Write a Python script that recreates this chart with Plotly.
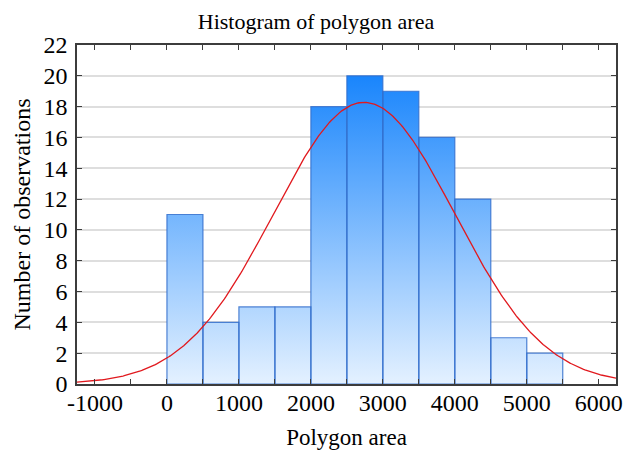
import numpy as np
import plotly.graph_objects as go

# Histogram data (bin edges of width 500)
bin_left = [0, 500, 1000, 1500, 2000, 2500, 3000, 3500, 4000, 4500, 5000]
bin_width = 500
counts = [11, 4, 5, 5, 18, 20, 19, 16, 12, 3, 2]

# Fitted normal curve parameters
fit_mean = 2740
fit_sd = 1255

x_ticks = [-1000, 0, 1000, 2000, 3000, 4000, 5000, 6000]
x_tick_labels = ["-1000", "0", "1000", "2000", "3000", "4000", "5000", "6000"]
y_ticks = list(range(0, 23, 2))

FONT = "Liberation Serif"

# build bar polygons
px, py = [], []
for l, c in zip(bin_left, counts):
    r = l + bin_width
    px += [l, l, r, r, l, None]
    py += [0, c, c, 0, 0, None]

n_total = sum(counts)
xc = np.linspace(-1250, 6240, 400)
yc = n_total * bin_width / (fit_sd * np.sqrt(2 * np.pi)) * np.exp(-0.5 * ((xc - fit_mean) / fit_sd) ** 2)

fig = go.Figure()
fig.add_trace(go.Scatter(
    x=px, y=py, mode="lines", fill="toself",
    line=dict(color="rgba(50,110,205,0.85)", width=1.2),
    fillgradient=dict(type="vertical",
                      colorscale=[[0, "rgb(228,241,255)"], [1, "rgb(25,133,252)"]],
                      start=0, stop=20),
    hoverinfo="skip", showlegend=False,
))
fig.add_trace(go.Scatter(
    x=xc, y=yc, mode="lines",
    line=dict(color="rgb(225,25,30)", width=1.3),
    showlegend=False,
))

W, H = 624, 448  # page body has an 8px default margin
fig.update_layout(
    width=W, height=H,
    margin=dict(l=69, r=16, t=37, b=72),
    paper_bgcolor="white", plot_bgcolor="white",
    font=dict(family=FONT, color="black"),
    title=dict(text="Histogram of polygon area", x=308 / W, xanchor="center",
               y=1 - 13 / H, yanchor="middle", font=dict(size=22, family=FONT)),
)
fig.update_xaxes(
    range=[-1250, 6240], tickvals=x_ticks, ticktext=x_tick_labels, ticks="inside", ticklen=5,
    tickcolor="rgb(60,60,60)", showgrid=False, zeroline=False, automargin=False,
    showline=True, linecolor="rgb(60,60,60)", linewidth=1.5, mirror="ticks",
    minor=dict(dtick=500, tick0=0, ticks="inside", ticklen=5, tickcolor="rgb(60,60,60)", showgrid=False),
    tickfont=dict(size=24, family=FONT), ticklabelstandoff=-4,
    title=dict(text="Polygon area", font=dict(size=23, family=FONT), standoff=14),
)
fig.update_yaxes(
    range=[0, 22], tickvals=y_ticks, ticks="inside", ticklen=5, automargin=False,
    tickcolor="rgb(60,60,60)", showgrid=True, gridcolor="rgb(222,222,222)", gridwidth=1.5,
    zeroline=False, showline=True, linecolor="rgb(60,60,60)", linewidth=1.5, mirror="ticks",
    tickfont=dict(size=24, family=FONT), ticklabelstandoff=3,
    title=dict(text="Number of observations", font=dict(size=24, family=FONT), standoff=6),
)

fig.write_html("out.html")
